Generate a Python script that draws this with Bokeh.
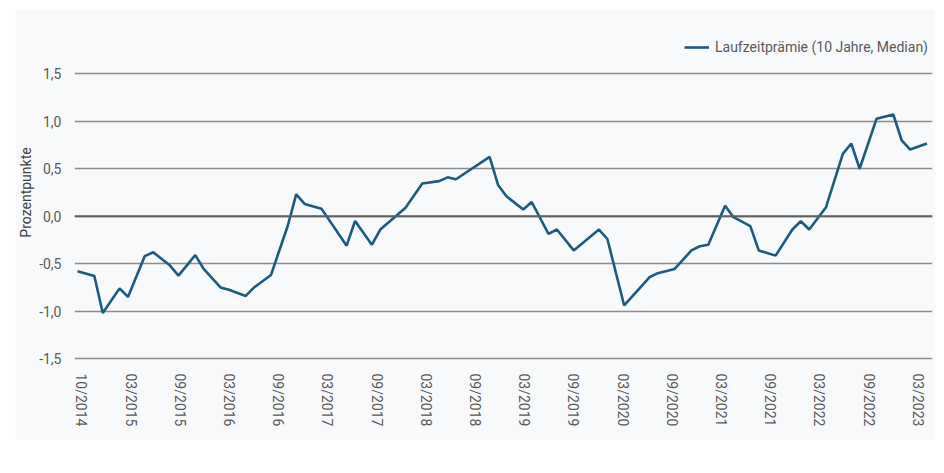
from bokeh.plotting import figure
from bokeh.models import FixedTicker, Span, Legend, LegendItem, Range1d
from bokeh.embed import file_html
from bokeh.resources import INLINE

# ---- data (visible vertices of the monthly series) ----
months = ["2014-10", "2014-12", "2015-01", "2015-03", "2015-04", "2015-06", "2015-07",
          "2015-09", "2015-10", "2015-12", "2016-01", "2016-03", "2016-04", "2016-06",
          "2016-07", "2016-09", "2016-11", "2016-12", "2017-01", "2017-03", "2017-06",
          "2017-07", "2017-09", "2017-10", "2018-01", "2018-03", "2018-05", "2018-06",
          "2018-07", "2018-11", "2018-12", "2019-01", "2019-03", "2019-04", "2019-06",
          "2019-07", "2019-09", "2019-12", "2020-01", "2020-03", "2020-06", "2020-07",
          "2020-09", "2020-11", "2020-12", "2021-01", "2021-03", "2021-04", "2021-06",
          "2021-07", "2021-09", "2021-11", "2021-12", "2022-01", "2022-03", "2022-05",
          "2022-06", "2022-07", "2022-09", "2022-11", "2022-12", "2023-01", "2023-03"]
term_premium = [-0.58, -0.63, -1.02, -0.76, -0.85, -0.42, -0.38,
                -0.52, -0.625, -0.41, -0.555, -0.75, -0.775, -0.84,
                -0.75, -0.62, -0.10, 0.23, 0.13, 0.08, -0.31,
                -0.05, -0.30, -0.14, 0.09, 0.345, 0.37, 0.41,
                0.39, 0.625, 0.33, 0.21, 0.07, 0.15, -0.186,
                -0.14, -0.36, -0.14, -0.24, -0.94, -0.643, -0.60,
                -0.555, -0.36, -0.316, -0.30, 0.11, -0.01, -0.105,
                -0.36, -0.415, -0.14, -0.053, -0.14, 0.095, 0.657,
                0.766, 0.50, 1.026, 1.072, 0.798, 0.703, 0.766]
x_tick_labels = ["10/2014", "03/2015", "09/2015", "03/2016", "09/2016", "03/2017",
                 "09/2017", "03/2018", "09/2018", "03/2019", "09/2019", "03/2020",
                 "09/2020", "03/2021", "09/2021", "03/2022", "09/2022", "03/2023"]
y_ticks = [-1.5, -1.0, -0.5, 0.0, 0.5, 1.0, 1.5]
y_tick_labels = ["-1,5", "-1,0", "-0,5", "0,0", "0,5", "1,0", "1,5"]
series_name = "Laufzeitprämie (10 Jahre, Median)"
y_title = "Prozentpunkte"

assert len(months) == len(term_premium)

# month index since 10/2014
x = [(int(m[:4]) - 2014) * 12 + int(m[5:]) - 10 for m in months]

# label positions (evenly spread in the original chart)
x_tick_pos = [round(0.47 + 5.85 * k, 2) for k in range(len(x_tick_labels))]

FONT = "Roboto"
TXT = "#595959"
BG = "#f8f9fa"

# the frame reaches up into the legend strip (no grid line there)
p = figure(width=920, height=431, output_backend="svg", toolbar_location=None,
           x_range=Range1d(-0.36, 101.66), y_range=Range1d(-1.52, 2.02),
           min_border_left=58, min_border_right=3, min_border_top=15, min_border_bottom=80)
p.margin = (9, 0, 0, 15)
p.background_fill_color = BG
p.border_fill_color = BG
p.outline_line_color = None

r = p.line(x, term_premium, line_color="#1c5a80", line_width=2.6)

# axes
p.xaxis.ticker = FixedTicker(ticks=x_tick_pos)
p.xaxis.major_label_overrides = {t: l for t, l in zip(x_tick_pos, x_tick_labels)}
p.xaxis.major_label_orientation = "vertical"
p.yaxis.ticker = FixedTicker(ticks=y_ticks)
p.yaxis.major_label_overrides = {t: l for t, l in zip(y_ticks, y_tick_labels)}
p.yaxis.axis_label = y_title
for ax in (p.xaxis[0], p.yaxis[0]):
    ax.axis_line_color = None
    ax.major_tick_line_color = None
    ax.minor_tick_line_color = None
    ax.major_label_text_font = FONT
    ax.major_label_text_font_size = "14px"
    ax.major_label_text_color = TXT
    ax.major_label_standoff = 7
p.yaxis.axis_label_text_font = FONT
p.yaxis.axis_label_text_font_size = "14px"
p.yaxis.axis_label_text_font_style = "normal"
p.yaxis.axis_label_text_color = "#404040"
p.yaxis.axis_label_standoff = 2

# grid
p.xgrid.visible = False
p.ygrid.grid_line_color = "#8c8c8c"
p.ygrid.grid_line_width = 1.5
p.add_layout(Span(location=0, dimension="width", line_color="#5f5f5f", line_width=2.2))

# legend at the top right (position in frame pixels, bottom-left corner)
legend = Legend(items=[LegendItem(label=series_name, renderers=[r])],
                location=(610, 303), orientation="horizontal",
                background_fill_alpha=0, border_line_color=None,
                padding=5, margin=0, glyph_width=25, glyph_height=20, label_height=20,
                label_standoff=6, label_text_font=FONT, label_text_font_size="14px",
                label_text_color=TXT)
p.add_layout(legend)

open("out.html", "w").write(file_html(p, INLINE))
